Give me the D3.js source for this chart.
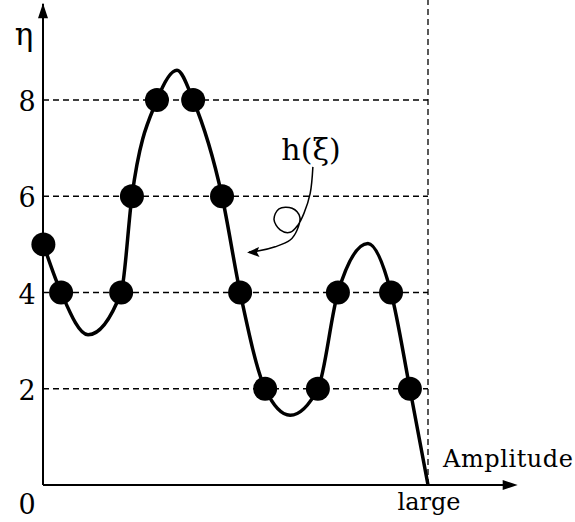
<!DOCTYPE html>
<html>
<head>
<meta charset="utf-8">
<script src="https://cdn.jsdelivr.net/npm/d3@7"></script>
<style>
  body { margin: 0; background: #fff; }
  svg text { font-family: "DejaVu Serif", serif; fill: #000; }
</style>
</head>
<body>
<svg width="575" height="522"></svg>
<script>
// levels of eta that get a dashed guide and a tick label
var levels = [2, 4, 6, 8];

// sampled points (filled dots): amplitude as fraction of "large", eta
var dotAmp = [0.001, 0.047, 0.203, 0.231, 0.296, 0.39, 0.465, 0.512, 0.577, 0.714, 0.766, 0.904, 0.953];
var dotEta = [5, 4, 4, 6, 8, 8, 6, 4, 2, 2, 4, 4, 2];

var curveAmp = [0.001, 0.047, 0.117, 0.203, 0.231, 0.296, 0.348, 0.39, 0.465, 0.512, 0.577, 0.642, 0.714, 0.766, 0.844, 0.904, 0.953, 1.0];
var curveEta = [5, 4, 3.12, 4, 6, 8, 8.62, 8, 6, 4, 2, 1.45, 2, 4, 5.02, 4, 2, 0];

// curly pointer from the h(xi) label to the curve
var noteAmp = [0.701, 0.694, 0.678, 0.662, 0.642, 0.616, 0.600, 0.613, 0.647, 0.667, 0.660, 0.642, 0.603, 0.558, 0.535];
var noteEta = [6.61, 6.06, 5.65, 5.40, 5.25, 5.30, 5.52, 5.74, 5.75, 5.57, 5.30, 5.09, 4.95, 4.86, 4.84];

var svg = d3.select("svg");

var x = d3.scaleLinear().domain([0, 1]).range([43, 428]),
    y = d3.scaleLinear().domain([0, 8]).range([485, 100]);

// dashed guides
svg.selectAll(".guide")
  .data(levels)
  .enter().append("line")
  .attr("x1", x(0)).attr("x2", x(1))
  .attr("y1", function(d) { return y(d); })
  .attr("y2", function(d) { return y(d); })
  .attr("stroke", "#000").attr("stroke-width", 1.3)
  .attr("stroke-dasharray", "6,4");

svg.append("line")
  .attr("x1", x(1)).attr("x2", x(1))
  .attr("y1", y(10.1)).attr("y2", y(0))
  .attr("stroke", "#000").attr("stroke-width", 1.3)
  .attr("stroke-dasharray", "6,4");

// axes with arrow heads
svg.append("line")
  .attr("x1", x(0)).attr("x2", x(0))
  .attr("y1", y(0)).attr("y2", y(10.0))
  .attr("stroke", "#000").attr("stroke-width", 2);
svg.append("path")
  .attr("d", "M" + x(0) + "," + y(10.01) + "l-5,15l10,0z")
  .attr("fill", "#000");

svg.append("line")
  .attr("x1", x(0)).attr("x2", x(1.2))
  .attr("y1", y(0)).attr("y2", y(0))
  .attr("stroke", "#000").attr("stroke-width", 2);
svg.append("path")
  .attr("d", "M" + x(1.233) + "," + y(0) + "l-15,-5l0,10z")
  .attr("fill", "#000");

// curve
var curve = d3.line()
  .curve(d3.curveMonotoneX)
  .x(function(d, i) { return x(curveAmp[i]); })
  .y(function(d, i) { return y(curveEta[i]); });

svg.append("path")
  .attr("d", curve(curveAmp))
  .attr("fill", "none")
  .attr("stroke", "#000")
  .attr("stroke-width", 3.5)
  .attr("stroke-linejoin", "round");

svg.selectAll(".dot")
  .data(dotAmp)
  .enter().append("circle")
  .attr("cx", function(d) { return x(d); })
  .attr("cy", function(d, i) { return y(dotEta[i]); })
  .attr("r", 12)
  .attr("fill", "#000");

// pointer
var note = d3.line()
  .curve(d3.curveCatmullRom)
  .x(function(d, i) { return x(noteAmp[i]); })
  .y(function(d, i) { return y(noteEta[i]); });

svg.append("path")
  .attr("d", note(noteAmp))
  .attr("fill", "none")
  .attr("stroke", "#000")
  .attr("stroke-width", 1.5);

var tipX = x(0.53), tipY = y(4.83);
svg.append("path")
  .attr("d", "M" + tipX + "," + tipY + "l12,-5.5l-2,5.5l2.5,4.5z")
  .attr("fill", "#000");

// labels
svg.selectAll(".tick")
  .data(levels)
  .enter().append("text")
  .attr("x", 27)
  .attr("y", function(d) { return y(d) + 11; })
  .attr("text-anchor", "middle")
  .style("font-size", "27px")
  .text(function(d) { return d; });

svg.append("text")
  .attr("x", 27).attr("y", 514)
  .attr("text-anchor", "middle")
  .style("font-size", "27px")
  .text("0");

svg.append("text")
  .attr("x", 24).attr("y", 45)
  .attr("text-anchor", "middle")
  .style("font-size", "31px")
  .text("η");

svg.append("text")
  .attr("x", 429).attr("y", 510)
  .attr("text-anchor", "middle")
  .style("font-size", "24px")
  .text("large");

svg.append("text")
  .attr("x", 443).attr("y", 467)
  .attr("textLength", 130)
  .style("font-size", "24px")
  .text("Amplitude");

svg.append("text")
  .attr("x", 311).attr("y", 160)
  .attr("text-anchor", "middle")
  .style("font-size", "30px")
  .text("h(ξ)");
</script>
</body>
</html>
